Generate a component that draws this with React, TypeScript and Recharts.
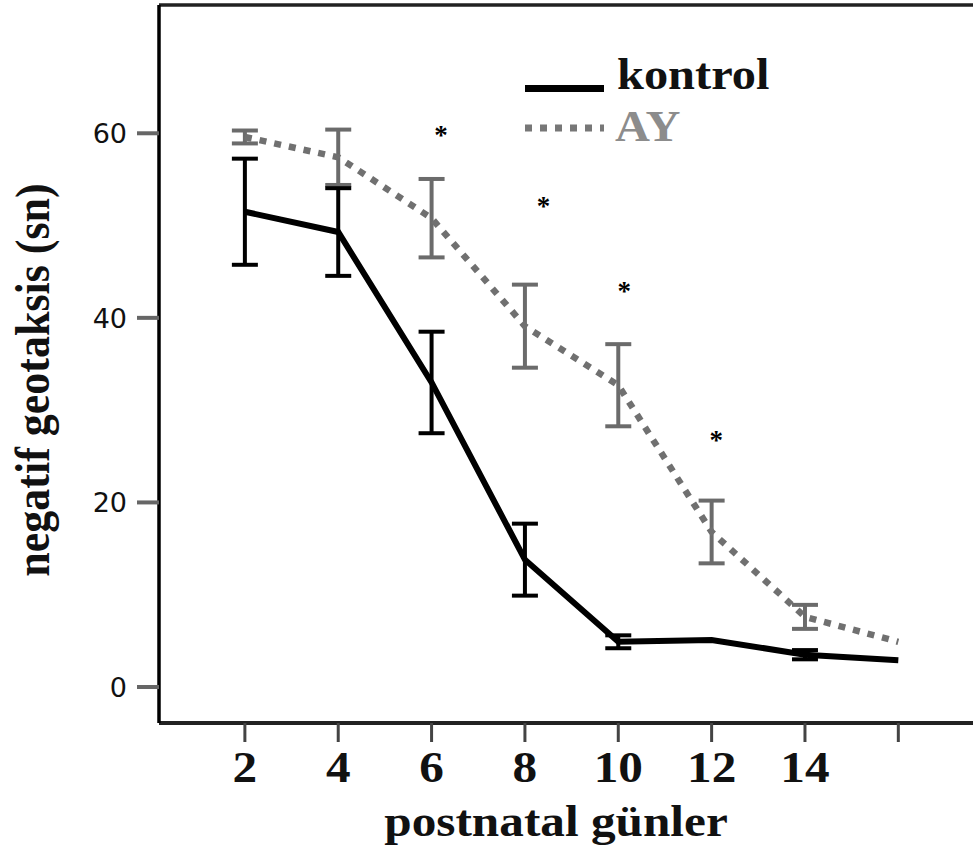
import { ComposedChart, Line, ErrorBar, XAxis, YAxis, ReferenceLine, Scatter, Legend } from "recharts";

const days = [2, 4, 6, 8, 10, 12, 14, 16];
const kontrol = [51.5, 49.3, 33.0, 13.8, 4.9, 5.1, 3.5, 2.9];
const kontrolErr = [5.75, 4.75, 5.5, 3.9, 0.7, null, 0.5, null];
const ay = [59.6, 57.4, 50.8, 39.1, 32.7, 16.8, 7.6, 4.9];
const ayErr = [0.7, 3.0, 4.25, 4.5, 4.45, 3.4, 1.3, null];

// significance stars (day, level)
const starDays = [6.2, 8.4, 10.13, 12.1];
const starLevels = [60.2, 52.5, 43.3, 27.2];

const xTicks = [2, 4, 6, 8, 10, 12, 14, 16];
const xTickLabels = ["2", "4", "6", "8", "10", "12", "14", ""];
const yTicks = [0, 20, 40, 60];

const rows = days.map((d, i) => ({
  day: d,
  kontrol: kontrol[i],
  kErr: kontrolErr[i],
  ay: ay[i],
  aErr: ayErr[i],
}));
const stars = starDays.map((d, i) => ({ day: d, level: starLevels[i] }));

const Y_MIN = -3.9;
const Y_MAX = 73.9;
const serif = "'Liberation Serif', 'Times New Roman', serif";

const XTick = ({ x, y, payload }: any) => {
  const i = xTicks.indexOf(payload.value);
  const label = i >= 0 ? xTickLabels[i] : "";
  if (!label) return null;
  return (
    <text
      transform={`translate(${x},${y + 38}) scale(1.12,1)`}
      textAnchor="middle"
      fontFamily={serif}
      fontWeight="bold"
      fontSize={44}
      fill="#111"
    >
      {label}
    </text>
  );
};

const YTick = ({ x, y, payload }: any) => (
  <text
    x={x}
    y={y + 10}
    textAnchor="end"
    fontFamily="'DejaVu Sans', sans-serif"
    fontSize={27}
    fill="#111"
  >
    {payload.value}
  </text>
);

const Star = ({ cx, cy }: any) => (
  <text x={cx} y={cy + 13} textAnchor="middle" fontFamily={serif} fontWeight="bold" fontSize={27} fill="#000">
    *
  </text>
);

const LegendBox = () => (
  <svg width={300} height={140}>
    <line x1={25} y1={68.5} x2={104} y2={68.5} stroke="#000" strokeWidth={7} />
    <text transform="translate(117,69) scale(1.1,1)" fontFamily={serif} fontWeight="bold" fontSize={44} fill="#111">
      kontrol
    </text>
    <line x1={25} y1={108} x2={104} y2={108} stroke="#777" strokeWidth={7} strokeDasharray="7 8" />
    <text transform="translate(115,121) scale(1.1,1)" fontFamily={serif} fontWeight="bold" fontSize={44} fill="#8c8c8c">
      AY
    </text>
  </svg>
);

export default function App() {
  return (
    <div style={{ position: "absolute", left: 0, top: 0, background: "#fff" }}>
      <ComposedChart width={973} height={847} data={rows} margin={{ top: 5, right: 0, bottom: 0, left: 0 }}>
        <XAxis
          dataKey="day"
          type="number"
          domain={[0.16, 17.6]}
          allowDataOverflow
          ticks={xTicks}
          interval={0}
          height={124}
          axisLine={{ stroke: "#222", strokeWidth: 4 }}
          tickLine={{ stroke: "#444", strokeWidth: 3 }}
          tickSize={19}
          tick={<XTick />}
          label={{
            content: () => (
              <text
                transform="translate(556,836) scale(1.12,1)"
                textAnchor="middle"
                fontFamily={serif}
                fontWeight="bold"
                fontSize={44}
                fill="#111"
              >
                postnatal günler
              </text>
            ),
          }}
        />
        <YAxis
          type="number"
          domain={[Y_MIN, Y_MAX]}
          allowDataOverflow
          ticks={yTicks}
          width={159}
          axisLine={{ stroke: "#000", strokeWidth: 3.5 }}
          tickLine={{ stroke: "#666", strokeWidth: 4 }}
          tickSize={22}
          tickMargin={10}
          tick={<YTick />}
          label={{
            content: () => (
              <text
                transform="translate(49,380) rotate(-90) scale(1,1.12)"
                textAnchor="middle"
                fontFamily={serif}
                fontWeight="bold"
                fontSize={44}
                fill="#111"
              >
                negatif geotaksis (sn)
              </text>
            ),
          }}
        />
        <ReferenceLine y={Y_MAX} stroke="#222" strokeWidth={3.5} />
        <Legend
          layout="vertical"
          align="center"
          verticalAlign="middle"
          content={() => <LegendBox />}
          wrapperStyle={{ left: 500, top: 20, width: 300, height: 140 }}
        />
        <Line
          dataKey="ay"
          type="linear"
          stroke="#707070"
          strokeWidth={6.5}
          strokeDasharray="7 8"
          dot={false}
          isAnimationActive={false}
        >
          <ErrorBar dataKey="aErr" direction="y" width={13} stroke="#6b6b6b" strokeWidth={4} />
        </Line>
        <Line
          dataKey="kontrol"
          type="linear"
          stroke="#000"
          strokeWidth={6}
          dot={false}
          isAnimationActive={false}
        >
          <ErrorBar dataKey="kErr" direction="y" width={13} stroke="#000" strokeWidth={4} />
        </Line>
        <Scatter data={stars} dataKey="level" shape={<Star />} isAnimationActive={false} />
      </ComposedChart>
    </div>
  );
}
